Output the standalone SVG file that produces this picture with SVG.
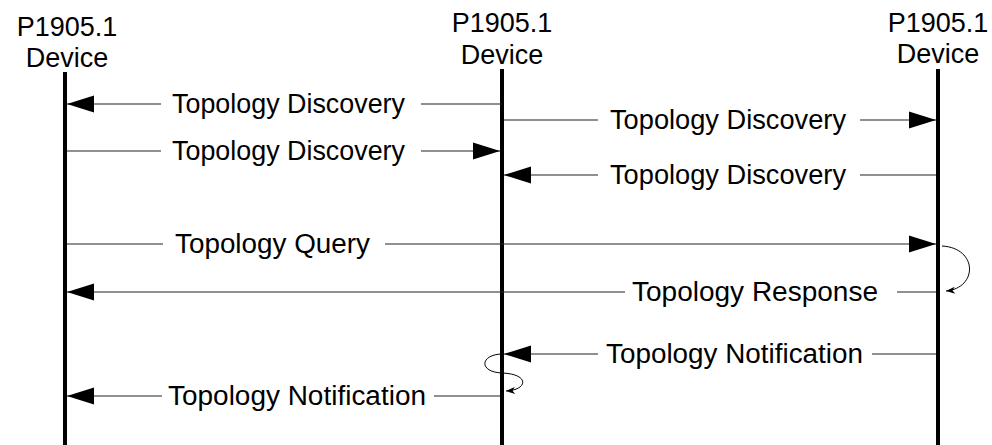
<svg xmlns="http://www.w3.org/2000/svg" width="992" height="445" viewBox="0 0 992 445">
<style>
  text { font-family: "Liberation Sans", Arial, sans-serif; font-size: 27px; fill: #000; }
  .hdr { text-anchor: middle; }
  .life { stroke: #000; stroke-width: 4; fill: none; }
  .msg { stroke: #222; stroke-width: 1.2; fill: none; }
  .loop { stroke: #000; stroke-width: 1; fill: none; }
</style>
<defs>
  <marker id="big" markerUnits="userSpaceOnUse" markerWidth="28" markerHeight="18" refX="27" refY="8.5" orient="auto" overflow="visible">
    <path d="M0,0 L27,8.5 L0,17 z" fill="#000"/>
  </marker>
  <marker id="small" markerUnits="userSpaceOnUse" markerWidth="10" markerHeight="8" refX="9" refY="3.5" orient="auto" overflow="visible">
    <path d="M0,0 L9,3.5 L0,7 L2.5,3.5 z" fill="#000"/>
  </marker>
</defs>

<g id="device-left">
  <text class="hdr" x="67" y="36">P1905.1</text>
  <text class="hdr" x="67" y="67">Device</text>
  <line class="life" x1="65" y1="72" x2="65" y2="445"/>
</g>
<g id="device-mid">
  <text class="hdr" x="502" y="32">P1905.1</text>
  <text class="hdr" x="502" y="64">Device</text>
  <line class="life" x1="502" y1="69" x2="502" y2="445"/>
</g>
<g id="device-right">
  <text class="hdr" x="938" y="32">P1905.1</text>
  <text class="hdr" x="938" y="63">Device</text>
  <line class="life" x1="938" y1="69" x2="938" y2="445"/>
</g>

<g id="connectors">
  <!-- Row 1: mid -> left Topology Discovery -->
  <line class="msg" x1="502" y1="104" x2="421" y2="104"/>
  <line class="msg" x1="161" y1="104" x2="67" y2="104" marker-end="url(#big)"/>
  <text x="172" y="113" textLength="233" lengthAdjust="spacingAndGlyphs">Topology Discovery</text>

  <!-- Row 2: mid -> right Topology Discovery -->
  <line class="msg" x1="504" y1="120" x2="598" y2="120"/>
  <line class="msg" x1="860" y1="120" x2="936" y2="120" marker-end="url(#big)"/>
  <text x="610" y="129" textLength="236" lengthAdjust="spacingAndGlyphs">Topology Discovery</text>

  <!-- Row 3: left -> mid Topology Discovery -->
  <line class="msg" x1="67" y1="151" x2="161" y2="151"/>
  <line class="msg" x1="421" y1="151" x2="500" y2="151" marker-end="url(#big)"/>
  <text x="172" y="160" textLength="233" lengthAdjust="spacingAndGlyphs">Topology Discovery</text>

  <!-- Row 4: right -> mid Topology Discovery -->
  <line class="msg" x1="936" y1="175" x2="860" y2="175"/>
  <line class="msg" x1="598" y1="175" x2="504" y2="175" marker-end="url(#big)"/>
  <text x="610" y="184" textLength="236" lengthAdjust="spacingAndGlyphs">Topology Discovery</text>

  <!-- Row 5: left -> right Topology Query -->
  <line class="msg" x1="67" y1="244" x2="163" y2="244"/>
  <line class="msg" x1="385" y1="244" x2="936" y2="244" marker-end="url(#big)"/>
  <text x="175" y="253" textLength="195" lengthAdjust="spacingAndGlyphs">Topology Query</text>

  <!-- self loop at right -->
  <path class="loop" d="M942,246 C978,248 978,288 946,291" marker-end="url(#small)"/>

  <!-- Row 6: right -> left Topology Response -->
  <line class="msg" x1="936" y1="292" x2="897" y2="292"/>
  <line class="msg" x1="625" y1="292" x2="67" y2="292" marker-end="url(#big)"/>
  <text x="632" y="301" textLength="246" lengthAdjust="spacingAndGlyphs">Topology Response</text>

  <!-- Row 7: right -> mid Topology Notification -->
  <line class="msg" x1="936" y1="354" x2="872" y2="354"/>
  <line class="msg" x1="598" y1="354" x2="504" y2="354" marker-end="url(#big)"/>
  <text x="606" y="363" textLength="257" lengthAdjust="spacingAndGlyphs">Topology Notification</text>

  <!-- self loop at mid -->
  <path class="loop" d="M503,354 C480,354 478,372 502,373 C530,374 528,390 506,391" marker-end="url(#small)"/>

  <!-- Row 8: mid -> left Topology Notification -->
  <line class="msg" x1="500" y1="396" x2="434" y2="396"/>
  <line class="msg" x1="162" y1="396" x2="67" y2="396" marker-end="url(#big)"/>
  <text x="168" y="405" textLength="258" lengthAdjust="spacingAndGlyphs">Topology Notification</text>
</g>
</svg>
